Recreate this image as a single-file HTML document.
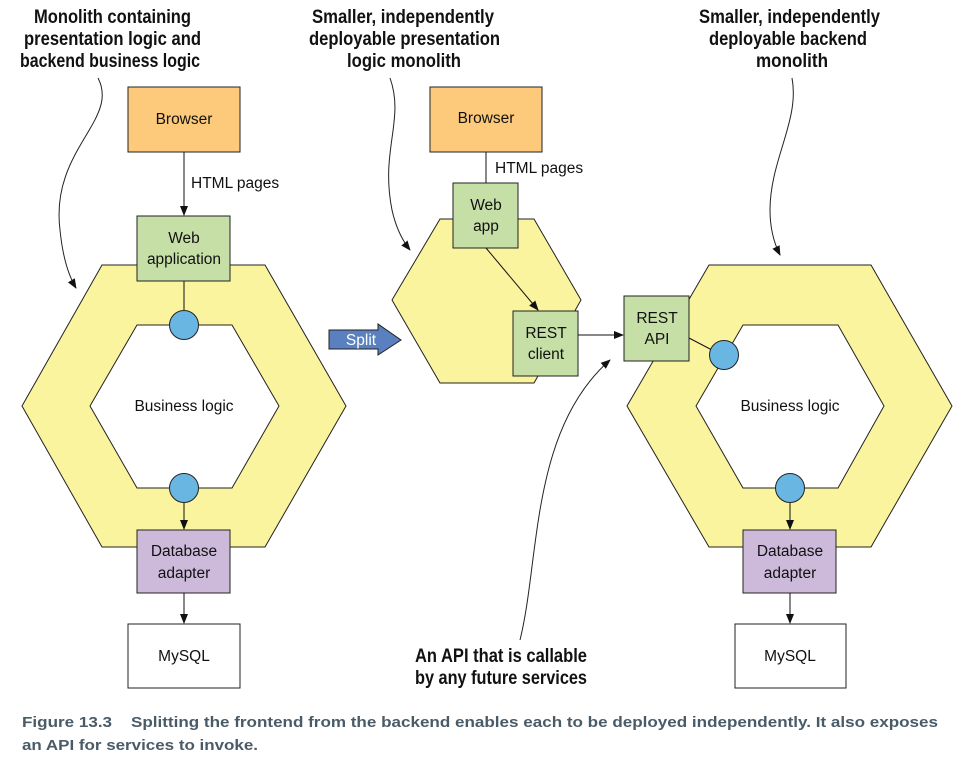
<!DOCTYPE html>
<html><head><meta charset="utf-8"><style>
body{margin:0;background:#fff;width:976px;height:764px;overflow:hidden}
svg text{font-family:"Liberation Sans",sans-serif;font-size:15.5px;fill:#111}
svg text.h{font-family:"Liberation Sans",sans-serif;font-weight:bold;font-size:19px;fill:#111}
svg text.c{font-family:"Liberation Sans",sans-serif;font-weight:bold;font-size:15px;fill:#4a5b68}
</style></head><body>
<svg width="976" height="764" viewBox="0 0 976 764" xmlns="http://www.w3.org/2000/svg">
<defs><marker id="a" markerWidth="10" markerHeight="10" refX="9" refY="5" orient="auto" markerUnits="userSpaceOnUse"><path d="M0,1 L10,5 L0,9 Z" fill="#111"/></marker></defs>
<text class="h" x="34" y="23" textLength="157" lengthAdjust="spacingAndGlyphs">Monolith containing</text>
<text class="h" x="24" y="45" textLength="177" lengthAdjust="spacingAndGlyphs">presentation logic and</text>
<text class="h" x="20" y="67" textLength="180" lengthAdjust="spacingAndGlyphs">backend business logic</text>
<text class="h" x="312" y="23" textLength="182" lengthAdjust="spacingAndGlyphs">Smaller, independently</text>
<text class="h" x="309" y="45" textLength="191" lengthAdjust="spacingAndGlyphs">deployable presentation</text>
<text class="h" x="347" y="67" textLength="114" lengthAdjust="spacingAndGlyphs">logic monolith</text>
<text class="h" x="699" y="23" textLength="181" lengthAdjust="spacingAndGlyphs">Smaller, independently</text>
<text class="h" x="709" y="45" textLength="158" lengthAdjust="spacingAndGlyphs">deployable backend</text>
<text class="h" x="756" y="67" textLength="72" lengthAdjust="spacingAndGlyphs">monolith</text>
<text class="h" x="415" y="662" textLength="172" lengthAdjust="spacingAndGlyphs">An API that is callable</text>
<text class="h" x="415" y="684" textLength="172" lengthAdjust="spacingAndGlyphs">by any future services</text>
<g fill="none" stroke="#222" stroke-width="1">
<path d="M98,78 C120,120 50,150 60,230 C63,260 70,278 76,288" marker-end="url(#a)"/>
<path d="M390,78 C405,120 380,150 392,210 C396,228 402,240 410,250" marker-end="url(#a)"/>
<path d="M792,78 C800,120 770,160 770,210 C770,230 775,245 780,255" marker-end="url(#a)"/>
<path d="M520,640 C540,560 530,430 610,360" marker-end="url(#a)"/>
</g>
<path d="M102,265 L265,265 L346,406 L265,547 L102,547 L22,406 Z M137,325 L90,406 L137,488 L232,488 L279,406 L232,325 Z" fill="#fbf49f" fill-rule="evenodd" stroke="#222"/>
<line x1="184" y1="152" x2="184" y2="215" stroke="#111" marker-end="url(#a)"/>
<text x="191" y="188">HTML pages</text>
<rect x="128" y="87" width="112" height="65" fill="#fdc97a" stroke="#222"/>
<text x="184" y="124" text-anchor="middle">Browser</text>
<line x1="184" y1="281" x2="184" y2="312" stroke="#111"/>
<rect x="137" y="216" width="93" height="65" fill="#c5dfa6" stroke="#222"/>
<text x="184" y="243" text-anchor="middle">Web</text><text x="184" y="264" text-anchor="middle">application</text>
<circle cx="184" cy="325" r="14.5" fill="#6ab6e3" stroke="#222"/>
<text x="184" y="411" text-anchor="middle">Business logic</text>
<circle cx="184" cy="488" r="14.5" fill="#6ab6e3" stroke="#222"/>
<line x1="184" y1="503" x2="184" y2="529" stroke="#111" marker-end="url(#a)"/>
<rect x="137" y="530" width="93" height="63" fill="#cdbadb" stroke="#222"/>
<text x="184" y="556" text-anchor="middle">Database</text><text x="184" y="578" text-anchor="middle">adapter</text>
<line x1="184" y1="593" x2="184" y2="623" stroke="#111" marker-end="url(#a)"/>
<rect x="128" y="624" width="112" height="64" fill="#fff" stroke="#222"/>
<text x="184" y="661" text-anchor="middle">MySQL</text>
<path d="M329,330 L378,330 L378,324 L401,340 L378,355 L378,349 L329,349 Z" fill="#5a80c0" stroke="#222"/>
<text x="361" y="345" text-anchor="middle" style="fill:#fff">Split</text>
<path d="M440,219 L534,219 L581,300 L534,383 L440,383 L392,300 Z" fill="#fbf49f" stroke="#222"/>
<rect x="430" y="87" width="112" height="65" fill="#fdc97a" stroke="#222"/>
<text x="486" y="123" text-anchor="middle">Browser</text>
<line x1="486" y1="152" x2="486" y2="183" stroke="#111"/>
<text x="495" y="173">HTML pages</text>
<rect x="453" y="183" width="65" height="65" fill="#c5dfa6" stroke="#222"/>
<text x="486" y="210" text-anchor="middle">Web</text><text x="486" y="231" text-anchor="middle">app</text>
<line x1="486" y1="248" x2="538" y2="310" stroke="#111" marker-end="url(#a)"/>
<rect x="513" y="311" width="65" height="65" fill="#c5dfa6" stroke="#222"/>
<text x="546" y="338" text-anchor="middle">REST</text><text x="546" y="359" text-anchor="middle">client</text>
<line x1="578" y1="335" x2="623" y2="335" stroke="#111" marker-end="url(#a)"/>
<path d="M709,265 L871,265 L952,406 L871,547 L709,547 L627,406 Z M743,325 L696,406 L743,488 L838,488 L884,406 L838,325 Z" fill="#fbf49f" fill-rule="evenodd" stroke="#222"/>
<line x1="689" y1="338" x2="712" y2="350" stroke="#111"/>
<rect x="624" y="296" width="65" height="65" fill="#c5dfa6" stroke="#222"/>
<text x="657" y="323" text-anchor="middle">REST</text><text x="657" y="344" text-anchor="middle">API</text>
<circle cx="724" cy="355" r="14.5" fill="#6ab6e3" stroke="#222"/>
<text x="790" y="411" text-anchor="middle">Business logic</text>
<circle cx="790" cy="488" r="14.5" fill="#6ab6e3" stroke="#222"/>
<line x1="790" y1="503" x2="790" y2="529" stroke="#111" marker-end="url(#a)"/>
<rect x="743" y="530" width="93" height="63" fill="#cdbadb" stroke="#222"/>
<text x="790" y="556" text-anchor="middle">Database</text><text x="790" y="578" text-anchor="middle">adapter</text>
<line x1="790" y1="593" x2="790" y2="623" stroke="#111" marker-end="url(#a)"/>
<rect x="735" y="624" width="111" height="64" fill="#fff" stroke="#222"/>
<text x="790" y="661" text-anchor="middle">MySQL</text>
<text class="c" x="22" y="727" textLength="916" lengthAdjust="spacingAndGlyphs" xml:space="preserve">Figure 13.3    Splitting the frontend from the backend enables each to be deployed independently. It also exposes</text>
<text class="c" x="22" y="750" textLength="236" lengthAdjust="spacingAndGlyphs">an API for services to invoke.</text>
</svg>
</body></html>
